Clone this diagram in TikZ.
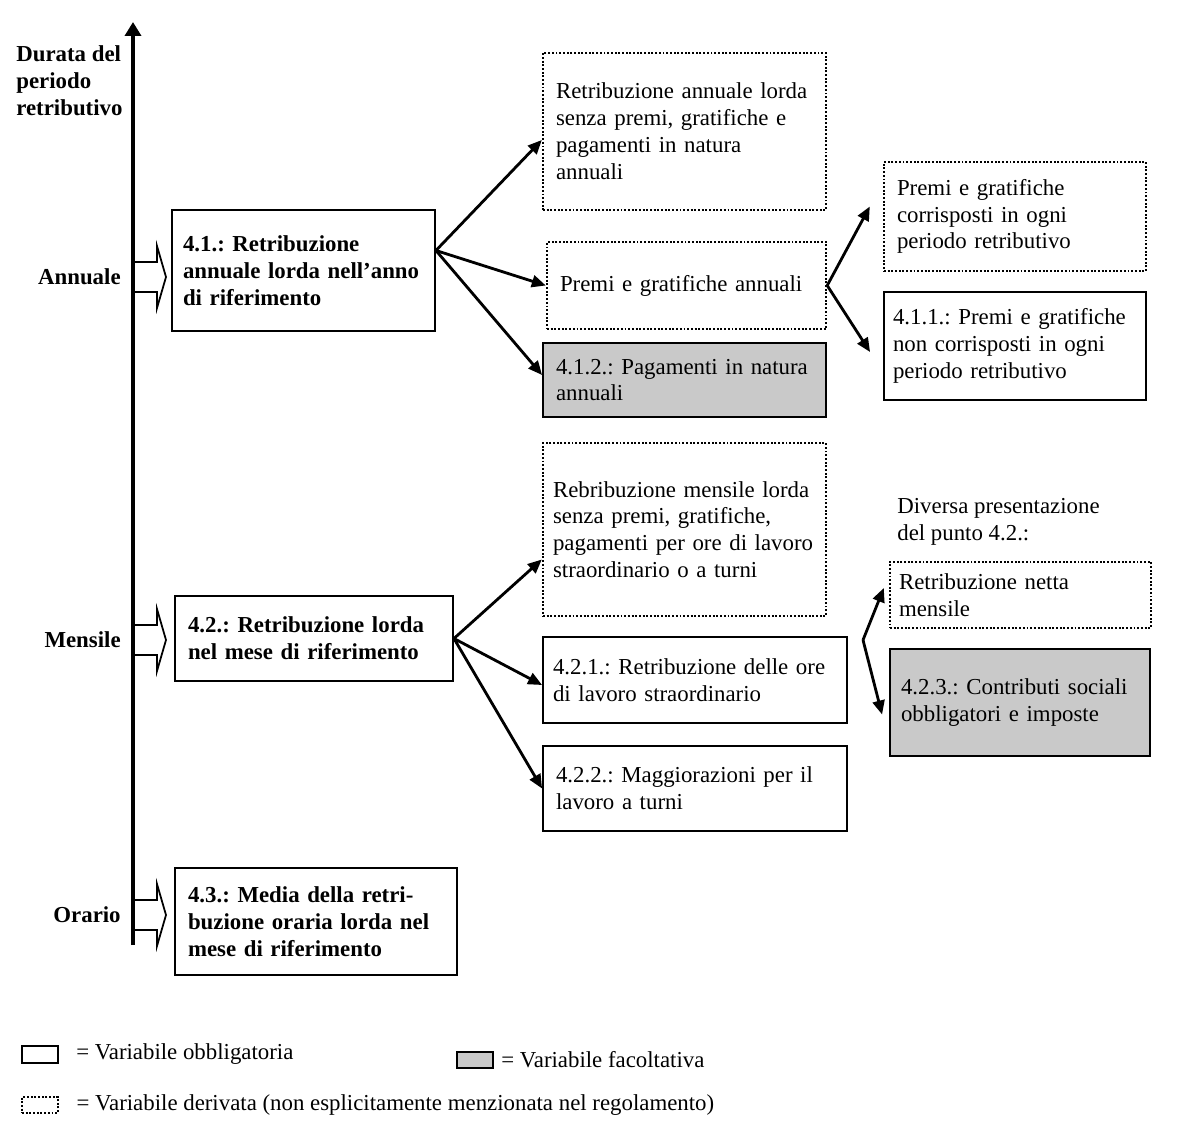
\documentclass[tikz,border=0pt]{standalone}
\usepackage{fontspec}
\setmainfont{Liberation Serif}
\usetikzlibrary{positioning, arrows.meta, calc}

\begin{document}
\frenchspacing
\begin{tikzpicture}[
        x=0.02cm, y=-0.02cm,
        font=\fontsize{13}{15.3}\selectfont,
        box/.style={rectangle, draw, line width=1.1pt, inner xsep=0.26cm, inner ysep=0pt, align=left},
        derived/.style={box, densely dotted, line width=1.4pt},
        optional/.style={box, fill=gray!42},
        main/.style={box, font=\fontsize{13}{15.3}\selectfont\bfseries},
        arrow/.style={-{Triangle[length=0.28cm, width=0.24cm]}, line width=1.6pt},
        hollow/.style={line width=1pt, line join=miter}
    ]
        \useasboundingbox (0,0) rectangle (1192,1143);

        % Time axis
        \coordinate (axbot) at (133,945);
        \coordinate (axtop) at (133,22);
        \draw[-{Triangle[length=0.28cm, width=0.32cm]}, line width=2.3pt] (axbot) -- (axtop);
        \node[anchor=west, align=left, inner xsep=0, font=\fontsize{13}{15.3}\selectfont\bfseries] (title) at (16,80.5) {Durata del\\periodo\\retributivo};
        \foreach \yy/\lbl/\nm in {277/Annuale/ann, 640/Mensile/men, 915/Orario/ora}{
            \draw[hollow] (133,\yy-15) -- (157,\yy-15) -- (157,\yy-31) -- (166,\yy) -- (157,\yy+31) -- (157,\yy+15) -- (133,\yy+15);
            \node[anchor=east, inner xsep=0, font=\fontsize{13}{15.3}\selectfont\bfseries] (\nm) at (121,\yy) {\lbl};
        }

        % Annual
        \node[main, inner xsep=0.22cm, minimum width=5.26cm, minimum height=2.42cm, text width=4.82cm] (b41) at (303.5,270.5) {4.1.: Retribuzione\\annuale lorda nell'anno\\di riferimento};
        \node[derived, minimum width=5.66cm, minimum height=3.14cm, text width=5.14cm] (d1) at (684.5,131.5) {Retribuzione annuale lorda\\senza premi, gratifiche e\\pagamenti in natura\\annuali};
        \node[derived, minimum width=5.58cm, minimum height=1.74cm, text width=5.06cm] (d2) at (686.5,285.5) {Premi e gratifiche annuali};
        \node[optional, minimum width=5.66cm, minimum height=1.48cm, text width=5.14cm] (h412) at (684.5,380) {4.1.2.: Pagamenti in natura\\annuali};
        \node[derived, minimum width=5.24cm, minimum height=2.18cm, text width=4.72cm] (d3) at (1015,216.5) {Premi e gratifiche\\corrisposti in ogni\\periodo retributivo};
        \node[box, inner xsep=0.18cm, minimum width=5.24cm, minimum height=2.16cm, text width=4.88cm] (b411) at (1015,346) {4.1.1.: Premi e gratifiche\\non corrisposti in ogni\\periodo retributivo};

        % Monthly
        \node[main, minimum width=5.56cm, minimum height=1.70cm, text width=5.04cm] (b42) at (314,638.5) {4.2.: Retribuzione lorda\\nel mese di riferimento};
        \node[derived, inner xsep=0.2cm, minimum width=5.66cm, minimum height=3.46cm, text width=5.26cm] (d4) at (684.5,529.5) {Rebribuzione mensile lorda\\senza premi, gratifiche,\\pagamenti per ore di lavoro\\straordinario o a turni};
        \node[box, inner xsep=0.2cm, minimum width=6.08cm, minimum height=1.72cm, text width=5.68cm] (b421) at (695,680) {4.2.1.: Retribuzione delle ore\\di lavoro straordinario};
        \node[box, minimum width=6.08cm, minimum height=1.70cm, text width=5.56cm] (b422) at (695,788.5) {4.2.2.: Maggiorazioni per il\\lavoro a turni};
        \node[anchor=west, align=left, inner xsep=0.24cm] (alt) at (885,522) {Diversa presentazione\\del punto 4.2.:};
        \node[derived, inner xsep=0.18cm, minimum width=5.22cm, minimum height=1.32cm, text width=4.86cm] (d5) at (1020.5,595) {Retribuzione netta\\mensile};
        \node[optional, inner xsep=0.22cm, minimum width=5.20cm, minimum height=2.14cm, text width=4.76cm] (h423) at (1020,702.5) {4.2.3.: Contributi sociali\\obbligatori e imposte};

        % Hourly
        \node[main, minimum width=5.64cm, minimum height=2.14cm, text width=5.12cm] (b43) at (316,921.5) {4.3.: Media della retri-\\buzione oraria lorda nel\\mese di riferimento};

        % Arrows
        \coordinate (f41) at ([yshift=0.4cm]b41.east);
        \coordinate (f42) at (863,640);
        \draw[arrow] (f41) -- ([yshift=-0.17cm]d1.west);
        \draw[arrow] (f41) -- (d2.west);
        \draw[arrow] (f41) -- ([yshift=0.1cm]h412.west);
        \draw[arrow] (d2.east) -- ([xshift=-0.26cm, yshift=0.2cm]d3.west);
        \draw[arrow] (d2.east) -- ([xshift=-0.26cm, yshift=-0.12cm]b411.west);
        \draw[arrow] (b42.east) -- ([yshift=-0.6cm]d4.west);
        \draw[arrow] (b42.east) -- ([yshift=-0.1cm]b421.west);
        \draw[arrow] (b42.east) -- (b422.west);
        \draw[arrow] (f42) -- ([xshift=-0.1cm, yshift=0.14cm]d5.west);
        \draw[arrow] (f42) -- ([xshift=-0.14cm, yshift=-0.24cm]h423.west);

        % Legend
        \node[box, minimum width=0.72cm, minimum height=0.34cm, inner sep=0] (lg1) at (40,1054.5) {};
        \node[right=0.34cm of lg1, inner sep=0] (lt1) {= Variabile obbligatoria};
        \node[optional, minimum width=0.72cm, minimum height=0.32cm, inner sep=0] (lg2) at (475,1060) {};
        \node[right=0.14cm of lg2, inner sep=0] (lt2) {= Variabile facoltativa};
        \node[derived, minimum width=0.72cm, minimum height=0.32cm, inner sep=0] (lg3) at (40,1105) {};
        \node[right=0.34cm of lg3, inner sep=0] (lt3) {= Variabile derivata (non esplicitamente menzionata nel regolamento)};
    \end{tikzpicture}
\end{document}
